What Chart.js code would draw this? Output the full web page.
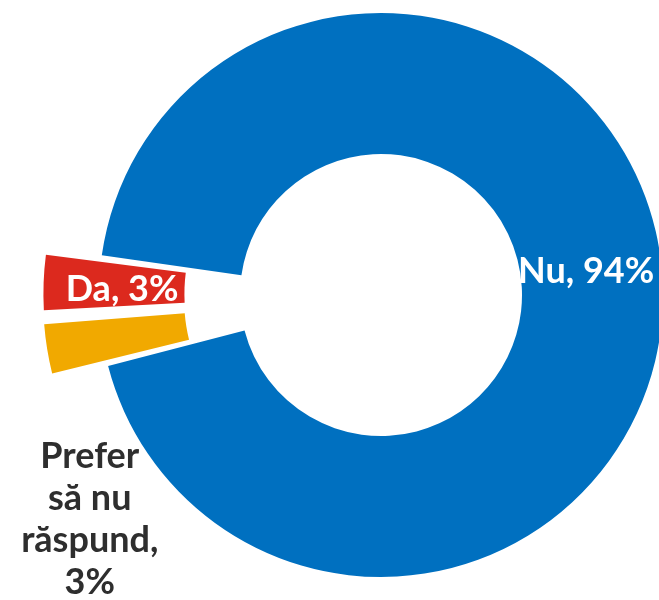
<!DOCTYPE html>
<html>
<head>
<meta charset="utf-8">
<script src="https://cdn.jsdelivr.net/npm/chart.js@4"></script>
<style>
	html, body { margin: 0; padding: 0; background: #fff; overflow: hidden; }
	.chart-box { position: relative; width: 659px; height: 600px; }
</style>
</head>
<body>
<div class="chart-box"><canvas id="chart-answers"></canvas></div>
<script>
const categories = ['Da', 'Nu', 'Prefer să nu răspund'];
const shares = [3.3, 93.7, 3.0];  // % of answers
const colors = ['#dc291e', '#0070c0', '#f1a900'];
const pulledOut = [124, 0, 124];   // Da and "Prefer..." pulled out of the ring

// where each label sits relative to its slice (wrap: 'word' = no wider than its longest word)
const labelPlaces = [
	{ r: 1, dx: 8, dy: 16, color: '#fff', wrap: false },
	{ r: 1, dx: -6, dy: 0, color: '#fff', wrap: false },
	{ r: 1, dx: -27, dy: 130, color: '#2e2e2e', wrap: 'word' },
];

function wrapWords(ctx, text, mode) {
	const words = text.split(' ');
	if (!mode) return [text];
	const maxWidth = Math.max(...words.map(w => ctx.measureText(w).width)) + 1;
	const lines = [];
	let line = '';
	words.forEach(w => {
		const test = line ? line + ' ' + w : w;
		if (line && ctx.measureText(test).width > maxWidth) {
			lines.push(line);
			line = w;
		} else {
			line = test;
		}
	});
	lines.push(line);
	return lines;
}

const sliceLabels = {
	id: 'sliceLabels',
	afterDatasetsDraw(chart, args, opts) {
		const ctx = chart.ctx;
		const meta = chart.getDatasetMeta(0);
		ctx.save();
		ctx.font = opts.font;
		ctx.textAlign = 'center';
		ctx.textBaseline = 'alphabetic';
		meta.data.forEach((arc, i) => {
			const p = arc.getProps(['x', 'y', 'startAngle', 'endAngle', 'innerRadius', 'outerRadius'], true);
			const mid = (p.startAngle + p.endAngle) / 2;
			// same shift Chart.js uses for an offset arc
			const shift = pulledOut[i] / 4 * (2 - Math.sin(Math.min(Math.PI, p.endAngle - p.startAngle)));
			const place = labelPlaces[i];
			const r = (p.innerRadius + p.outerRadius) / 2 * place.r + shift;
			const x = p.x + Math.cos(mid) * r + place.dx;
			const y = p.y + Math.sin(mid) * r + place.dy;
			const text = categories[i] + ', ' + Math.round(shares[i]) + '%';
			const lines = wrapWords(ctx, text, place.wrap);
			ctx.fillStyle = place.color;
			lines.forEach((l, k) => ctx.fillText(l, x, y + k * opts.lineHeight));
		});
		ctx.restore();
	}
};

const canvasAnswers = document.getElementById('chart-answers').getContext('2d');

let chartAnswers = new Chart(canvasAnswers, {
	type: 'doughnut',
	data: {
		labels: categories,
		datasets: [{
			data: shares,
			backgroundColor: colors,
			borderWidth: 0,
			offset: pulledOut,
			hoverOffset: 0,
			clip: false,
		}]
	},
	options: {
		maintainAspectRatio: false,
		responsive: true,
		animation: false,
		radius: 282,
		cutout: '50%',
		rotation: 266.2,
		layout: {
			padding: {
				top: 0,
				left: 103,
				right: 0,
				bottom: 10,
			}
		},
		plugins: {
			legend: { display: false },
			tooltip: { enabled: false },
			sliceLabels: {
				font: 'bold 36px Lato',
				lineHeight: 42,
			}
		}
	},
	plugins: [sliceLabels]
});
</script>
</body>
</html>
